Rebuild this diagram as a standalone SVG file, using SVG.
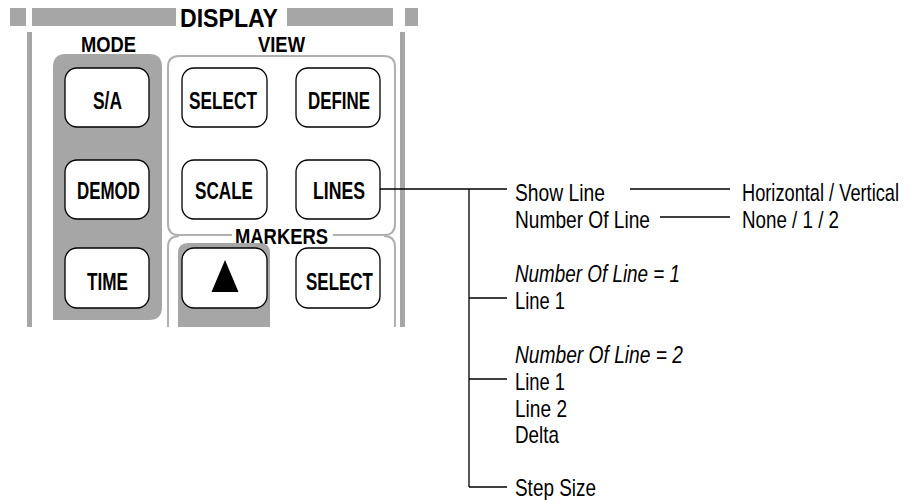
<svg xmlns="http://www.w3.org/2000/svg" width="914" height="500" viewBox="0 0 914 500">
<style>
.bar{fill:#a6a6a6}
.btn{fill:#fff;stroke:#000;stroke-width:1.3}
.bl{font-family:"Liberation Sans",Arial,sans-serif;font-weight:bold;font-size:23px;fill:#000}
.hd{font-family:"Liberation Sans",Arial,sans-serif;font-weight:bold;font-size:21.5px;fill:#000}
.tx{font-family:"Liberation Sans",Arial,sans-serif;font-size:24px;fill:#000}
.it{font-style:italic}
.pan{fill:none;stroke:#b0b0b0;stroke-width:2}
.cn{fill:none;stroke:#000;stroke-width:1.3}
</style>
<rect width="914" height="500" fill="#fff"/>
<g id="panel">
<rect class="bar" x="10" y="8" width="16" height="18"/>
<rect class="bar" x="32" y="8" width="144" height="18"/>
<rect class="bar" x="287" y="8" width="106" height="18"/>
<rect class="bar" x="405" y="8" width="13" height="18"/>
<text class="bl" x="229" y="27" text-anchor="middle" style="font-size:25px" textLength="98" lengthAdjust="spacingAndGlyphs">DISPLAY</text>
<rect class="bar" x="27" y="32" width="5" height="295"/>
<rect class="bar" x="400" y="32" width="5" height="295"/>
<text class="hd" x="108.5" y="51.5" text-anchor="middle" textLength="55" lengthAdjust="spacingAndGlyphs">MODE</text>
<text class="hd" x="281.5" y="51.5" text-anchor="middle" textLength="47" lengthAdjust="spacingAndGlyphs">VIEW</text>
<path class="bar" d="M53,320 V67 Q53,54 66,54 H149 Q162,54 162,67 V307 Q162,320 149,320 Z"/>
<path class="pan" d="M168,224 V67 Q168,56 179,56 H384 Q395,56 395,67 V224 Q395,235 384,235 H333 M232,235 H179 Q168,235 168,224"/>
<path class="pan" d="M168,327 V247 Q168,236 179,236 M395,327 V247 Q395,236 384,236"/>
<text class="hd" x="281.5" y="243.5" text-anchor="middle" textLength="93" lengthAdjust="spacingAndGlyphs">MARKERS</text>
<path class="bar" d="M178,327 V253 Q178,243 188,243 H260 Q270,243 270,253 V327 Z"/>
</g>
<g id="btn-sa"><rect class="btn" x="65" y="68" width="84" height="59" rx="12"/><text class="bl" x="107.5" y="109" text-anchor="middle" textLength="29" lengthAdjust="spacingAndGlyphs">S/A</text></g>
<g id="btn-demod"><rect class="btn" x="65" y="160" width="84" height="59" rx="12"/><text class="bl" x="108.5" y="199" text-anchor="middle" textLength="63" lengthAdjust="spacingAndGlyphs">DEMOD</text></g>
<g id="btn-time"><rect class="btn" x="65" y="248" width="84" height="60" rx="12"/><text class="bl" x="107.5" y="290" text-anchor="middle" textLength="41" lengthAdjust="spacingAndGlyphs">TIME</text></g>
<g id="btn-select-view"><rect class="btn" x="182" y="68" width="85" height="59" rx="12"/><text class="bl" x="223" y="109" text-anchor="middle" textLength="68" lengthAdjust="spacingAndGlyphs">SELECT</text></g>
<g id="btn-define"><rect class="btn" x="296" y="68" width="84" height="59" rx="12"/><text class="bl" x="339" y="109" text-anchor="middle" textLength="62" lengthAdjust="spacingAndGlyphs">DEFINE</text></g>
<g id="btn-scale"><rect class="btn" x="182" y="160" width="85" height="59" rx="12"/><text class="bl" x="224" y="199" text-anchor="middle" textLength="58" lengthAdjust="spacingAndGlyphs">SCALE</text></g>
<g id="btn-lines"><rect class="btn" x="296" y="160" width="84" height="59" rx="12"/><text class="bl" x="339" y="199" text-anchor="middle" textLength="52" lengthAdjust="spacingAndGlyphs">LINES</text></g>
<g id="btn-up"><rect class="btn" x="182" y="248" width="85" height="60" rx="12"/><path d="M225,260 L238.5,292 H211.5 Z" fill="#000"/></g>
<g id="btn-select-markers"><rect class="btn" x="296" y="248" width="84" height="60" rx="12"/><text class="bl" x="339.5" y="290" text-anchor="middle" textLength="67" lengthAdjust="spacingAndGlyphs">SELECT</text></g>
<g id="connectors">
<path class="cn" d="M380,189 H507 M469,189 V487 M469,298 H507 M469,379 H507 M469,487 H507 M630,189 H730 M660,217 H730"/>
</g>
<g id="menu">
<text class="tx" x="515" y="201" textLength="90" lengthAdjust="spacingAndGlyphs">Show Line</text>
<text class="tx" transform="translate(742,201) scale(0.76,1)" x="0" y="0">Horizontal / Vertical</text>
<text class="tx" x="515" y="228" textLength="135" lengthAdjust="spacingAndGlyphs">Number Of Line</text>
<text class="tx" x="742" y="228" textLength="97" lengthAdjust="spacingAndGlyphs">None / 1 / 2</text>
<text class="tx it" x="515" y="281.5" textLength="165" lengthAdjust="spacingAndGlyphs">Number Of Line = 1</text>
<text class="tx" x="515" y="308.5" textLength="50" lengthAdjust="spacingAndGlyphs">Line 1</text>
<text class="tx it" x="515" y="362.5" textLength="168" lengthAdjust="spacingAndGlyphs">Number Of Line = 2</text>
<text class="tx" x="515" y="389.5" textLength="50" lengthAdjust="spacingAndGlyphs">Line 1</text>
<text class="tx" x="515" y="416.5" textLength="52" lengthAdjust="spacingAndGlyphs">Line 2</text>
<text class="tx" x="515" y="443" textLength="44" lengthAdjust="spacingAndGlyphs">Delta</text>
<text class="tx" x="515" y="495.5" textLength="81" lengthAdjust="spacingAndGlyphs">Step Size</text>
</g>
</svg>
